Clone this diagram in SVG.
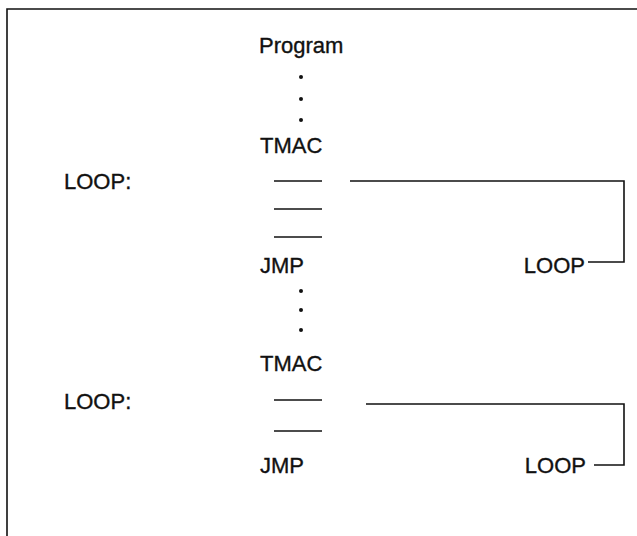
<svg xmlns="http://www.w3.org/2000/svg" width="637" height="536" viewBox="0 0 637 536">
<style>
text{font-family:"Liberation Sans",Arial,sans-serif;font-size:22px;fill:#111;stroke:#111;stroke-width:0.35}
.e{text-anchor:end}
line,polyline{stroke:#111;stroke-width:1.6;fill:none}
.dot{fill:#111}
</style>
<rect width="637" height="536" fill="#fff"/>
<g id="frame"><polyline points="7,536 7,9 637,9"/></g>
<g id="program"><text x="259" y="53">Program</text></g>
<g id="dots1"><circle class="dot" cx="301" cy="77" r="2"/><circle class="dot" cx="301" cy="99" r="2"/><circle class="dot" cx="301" cy="120" r="2"/></g>
<g id="tmac1"><text x="260" y="153">TMAC</text></g>
<g id="loop1label"><text x="64" y="189">LOOP:</text></g>
<g id="dashes1"><line x1="274" y1="181" x2="322" y2="181"/><line x1="274" y1="209" x2="322" y2="209"/><line x1="274" y1="237" x2="322" y2="237"/></g>
<g id="jmp1"><text x="260" y="273">JMP</text></g>
<g id="loop1ref"><text class="e" x="585" y="273">LOOP</text></g>
<g id="dots2"><circle class="dot" cx="301" cy="291" r="2"/><circle class="dot" cx="301" cy="310" r="2"/><circle class="dot" cx="301" cy="330" r="2"/></g>
<g id="tmac2"><text x="260" y="371">TMAC</text></g>
<g id="loop2label"><text x="64" y="409">LOOP:</text></g>
<g id="dashes2"><line x1="274" y1="400" x2="322" y2="400"/><line x1="274" y1="431" x2="322" y2="431"/></g>
<g id="jmp2"><text x="260" y="473">JMP</text></g>
<g id="loop2ref"><text class="e" x="586" y="473">LOOP</text></g>
<g id="connectors">
<polyline points="350,181 624,181 624,262 588,262"/>
<polyline points="366,404 624,404 624,465 594,465"/>
</g>
</svg>
